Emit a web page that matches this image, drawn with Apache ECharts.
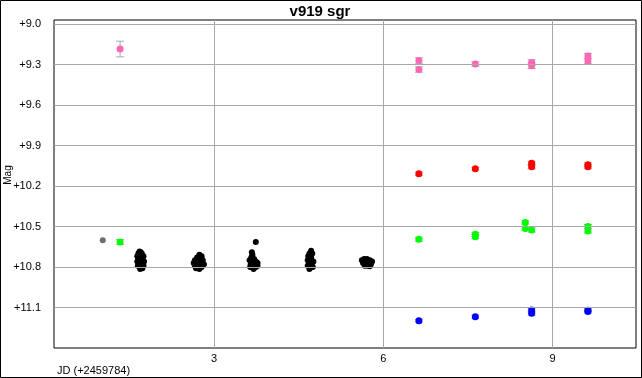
<!DOCTYPE html>
<html>
<head>
<meta charset="utf-8">
<title>v919 sgr</title>
<script src="https://cdn.jsdelivr.net/npm/echarts@6/dist/echarts.min.js"></script>
<style>
    html, body { margin: 0; padding: 0; background: #fff; }
    #chart { width: 642px; height: 378px; }
</style>
</head>
<body>
<div id="chart"></div>
<script>
// tick values
var xTicks = [3, 6, 9]
var yTicks = [9.0, 9.3, 9.6, 9.9, 10.2, 10.5, 10.8, 11.1]

// [jd, mag, err]
var pinkPts = [[1.335, 9.185, 0.058], [6.63, 9.27, 0.02], [6.63, 9.337, 0.02], [7.63, 9.296, 0.016],
    [8.628, 9.284, 0.02], [8.628, 9.309, 0.02], [9.625, 9.237, 0.02], [9.625, 9.274, 0.02]]
var redPts = [[6.63, 10.109, 0.012], [7.63, 10.072, 0.01], [8.628, 10.032, 0.015], [8.628, 10.057, 0.015],
    [9.625, 10.042, 0.015], [9.625, 10.057, 0.015]]
var greenPts = [[1.335, 10.615, 0.018], [6.63, 10.595, 0.015], [7.63, 10.558, 0.015], [7.63, 10.575, 0.015],
    [8.515, 10.47, 0.012], [8.515, 10.514, 0.012], [8.628, 10.526, 0.015], [9.625, 10.5, 0.015], [9.625, 10.533, 0.015]]
var bluePts = [[6.63, 11.198, 0.01], [7.63, 11.168, 0.012], [8.628, 11.119, 0.015], [8.628, 11.143, 0.015],
    [9.625, 11.12, 0.012], [9.625, 11.13, 0.012]]
var greyPts = [[1.028, 10.602]]

// black clusters [jd, mag]
var blackPts = [
    [1.68, 10.685], [1.70, 10.69], [1.66, 10.70], [1.72, 10.70], [1.64, 10.72], [1.70, 10.72], [1.75, 10.72],
    [1.66, 10.74], [1.73, 10.74], [1.68, 10.75], [1.64, 10.76], [1.71, 10.76], [1.76, 10.76], [1.67, 10.78],
    [1.73, 10.78], [1.65, 10.79], [1.70, 10.80], [1.75, 10.79], [1.69, 10.815], [1.73, 10.81],
    [2.74, 10.71], [2.78, 10.72], [2.70, 10.73], [2.76, 10.74], [2.66, 10.75], [2.72, 10.75], [2.80, 10.75],
    [2.64, 10.77], [2.70, 10.77], [2.76, 10.77], [2.82, 10.78], [2.66, 10.79], [2.72, 10.79], [2.78, 10.80],
    [2.68, 10.81], [2.74, 10.815],
    [3.74, 10.615],
    [3.67, 10.69], [3.68, 10.71], [3.66, 10.73], [3.71, 10.74], [3.63, 10.75], [3.68, 10.76], [3.74, 10.76],
    [3.65, 10.78], [3.71, 10.78], [3.77, 10.77], [3.68, 10.80], [3.74, 10.80], [3.64, 10.80], [3.70, 10.815],
    [3.77, 10.79],
    [4.72, 10.68], [4.69, 10.70], [4.74, 10.70], [4.67, 10.72], [4.72, 10.73], [4.66, 10.75], [4.72, 10.75],
    [4.76, 10.76], [4.68, 10.77], [4.73, 10.78], [4.66, 10.79], [4.71, 10.80], [4.75, 10.80], [4.69, 10.815],
    [5.62, 10.75], [5.66, 10.74], [5.71, 10.74], [5.76, 10.75], [5.80, 10.76], [5.64, 10.77], [5.69, 10.77],
    [5.74, 10.77], [5.78, 10.78], [5.67, 10.79], [5.72, 10.79], [5.76, 10.795]
]

var labelFont = "'Liberation Sans Narrow', 'Liberation Sans', Arial, sans-serif"

/**
 * 误差棒 custom series
 */
function errorSeries (pts) {
    return {
        type: 'custom',
        silent: true,
        z: 2,
        data: pts,
        renderItem: function (params, api) {
            var x = api.value(0), y = api.value(1), e = api.value(2)
            var top = api.coord([x, y - e])
            var bot = api.coord([x, y + e])
            var style = { stroke: '#a8a8a8', lineWidth: 1 }
            return {
                type: 'group',
                children: [
                    { type: 'line', shape: { x1: top[0], y1: top[1], x2: bot[0], y2: bot[1] }, style: style },
                    { type: 'line', shape: { x1: top[0] - 4, y1: top[1], x2: top[0] + 4, y2: top[1] }, style: style },
                    { type: 'line', shape: { x1: bot[0] - 4, y1: bot[1], x2: bot[0] + 4, y2: bot[1] }, style: style }
                ]
            }
        }
    }
}

function dotSeries (pts, color, size) {
    return {
        type: 'scatter',
        symbolSize: size,
        z: 3,
        data: pts.map(function (p) { return [p[0], p[1]] }),
        itemStyle: { color: color, opacity: 1 }
    }
}

var chart = echarts.init(document.getElementById('chart'))
chart.setOption({
    animation: false,
    backgroundColor: '#fff',
    grid: {
        left: 54, top: 20, right: 6, bottom: 30,
        show: true, borderColor: '#000', borderWidth: 1, backgroundColor: 'transparent'
    },
    xAxis: {
        type: 'value',
        min: 0.164,
        max: 10.477,
        axisLine: { show: false },
        axisTick: { show: false },
        splitLine: { show: false },
        axisLabel: {
            customValues: xTicks,
            margin: 5,
            color: '#000',
            fontSize: 11,
            fontFamily: labelFont
        }
    },
    yAxis: {
        type: 'value',
        inverse: true,
        min: 8.97,
        max: 11.4,
        axisLine: { show: false },
        axisTick: { show: false },
        splitLine: { show: false },
        axisLabel: {
            customValues: yTicks,
            margin: 13,
            color: '#000',
            fontSize: 11,
            fontFamily: labelFont,
            formatter: function (v) { return '+' + v.toFixed(1) }
        }
    },
    graphic: [
        { type: 'rect', shape: { x: 0.5, y: 0.5, width: 641, height: 377 }, style: { fill: 'none', stroke: '#000', lineWidth: 1 } },
        { type: 'text', x: 320, y: 12, style: { text: 'v919 sgr', fill: '#000', font: "bold 15px 'Liberation Sans', Arial, sans-serif", align: 'center', verticalAlign: 'middle' } },
        { type: 'text', x: 8, y: 175, rotation: Math.PI / 2, style: { text: 'Mag', fill: '#000', font: "10px " + labelFont, align: 'center', verticalAlign: 'middle' } },
        { type: 'text', x: 57, y: 371, style: { text: 'JD (+2459784)', fill: '#000', font: "11px " + labelFont, align: 'left', verticalAlign: 'middle' } }
    ],
    series: [
        {
            type: 'scatter',
            data: [],
            silent: true,
            z: 1,
            markLine: {
                silent: true,
                symbol: ['none', 'none'],
                label: { show: false },
                lineStyle: { color: '#a8a8a8', type: 'solid', width: 1 },
                data: yTicks.map(function (v) { return { yAxis: v } })
                    .concat(xTicks.map(function (v) { return { xAxis: v } }))
            }
        },
        errorSeries(pinkPts),
        errorSeries(redPts),
        errorSeries(greenPts),
        errorSeries(bluePts),
        dotSeries(pinkPts, '#ff66b3', 7),
        dotSeries(redPts, '#ff0000', 7),
        dotSeries(greenPts, '#00ff00', 7),
        dotSeries(bluePts, '#0000ff', 7),
        dotSeries(greyPts, '#6e6e6e', 6),
        dotSeries(blackPts, '#000', 6)
    ]
})
</script>
</body>
</html>
